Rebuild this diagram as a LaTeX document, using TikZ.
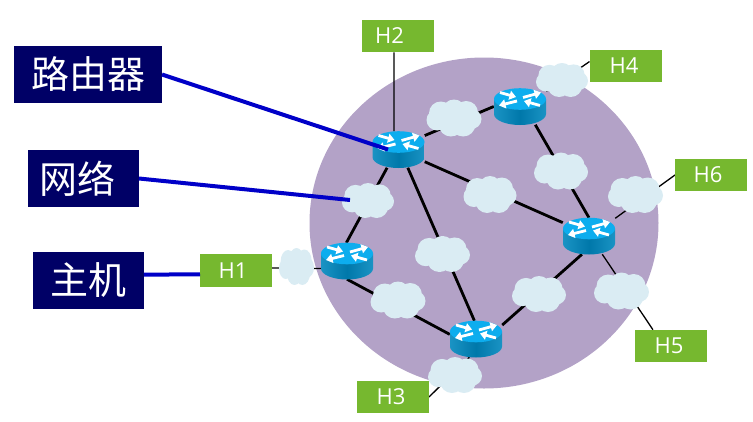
\documentclass[tikz,border=0pt]{standalone}
\usepackage{fontspec}
\setmainfont{Open Sans}
\newfontfamily\cjkfont{Noto Sans CJK SC}
\usetikzlibrary{arrows.meta,backgrounds,calc}
\definecolor{netpurple}{HTML}{B3A2C7}
\definecolor{cloudfill}{HTML}{DAECF3}
\definecolor{hostgreen}{HTML}{76B82F}
\definecolor{navybox}{HTML}{000066}
\definecolor{pointer}{HTML}{0000C8}
\definecolor{routertop}{HTML}{0DADEE}
\definecolor{routerside}{HTML}{0078AA}
\definecolor{routeredge}{HTML}{1A93C4}
\pgfdeclarelayer{domainlayer}
\pgfdeclarelayer{linklayer}
\pgfsetlayers{domainlayer,linklayer,main}
\tikzset{
  hostbox/.style={fill=hostgreen,text=white,font=\fontsize{22}{22}\selectfont,
    minimum width=72pt,minimum height=32.5pt,inner sep=0pt,outer sep=0pt},
  tagbox/.style={fill=navybox,text=white,font=\cjkfont\fontsize{38}{38}\selectfont,
    minimum height=57pt,inner sep=0pt,outer sep=0pt},
  routerbox/.style={minimum width=52.5pt,minimum height=36.5pt,inner sep=0pt,outer sep=0pt},
  trunk/.style={line width=2.8pt,black},
  access/.style={line width=1.3pt,black},
  callout/.style={line width=4pt,pointer},
  flow/.style={white,line width=2.8pt,-{Triangle[width=9pt,length=6.5pt]}},
  router/.pic={
    \path[left color=routeredge,right color=routeredge,middle color=routerside]
      (-26,-7.5) -- (-26,7.5) arc[start angle=180,end angle=0,x radius=26,y radius=11]
      -- (26,-7.5) -- cycle;
    \path[fill=routertop] (0,-7.5) ellipse[x radius=26,y radius=10.8];
    \draw[flow] (-20,-14) -- (-4,-9.5);
    \draw[flow] (3,-9) -- (21,-14);
    \draw[flow] (-3,-5.5) -- (-21,-1);
    \draw[flow] (20,-1) -- (4,-5.5);
  }
}
% a router glyph with a named box around it, for the links to attach to
\newcommand{\routerat}[3]{%
  \pic at (#2,#3) {router};
  \node[routerbox] (#1) at (#2,#3) {};
}
% a cloud built from overlapping lobes: name, centre x, centre y, width, height
\newcommand{\cloudat}[5]{%
  \begin{scope}[shift={(#2,#3)},xscale=#4/54,yscale=#5/37]
    \fill[cloudfill]
      (-13,-5) circle[radius=11.5] (0,-7) circle[radius=11.5] (12,-5.5) circle[radius=11.5]
      (17,1) circle[radius=10] (9,6.5) circle[radius=12] (-3,6.5) circle[radius=12]
      (-16.5,2) circle[radius=10.5] (0,0) circle[radius=16];
  \end{scope}
  \node[minimum width=#4pt,minimum height=#5pt,inner sep=0pt] (#1) at (#2,#3) {};
}
\begin{document}
\begin{tikzpicture}[x=1pt,y=-1pt]
\useasboundingbox (0,0) rectangle (753,421);

\begin{pgfonlayer}{domainlayer}
  \fill[netpurple] (484,223) ellipse[x radius=174.5,y radius=165.5];
\end{pgfonlayer}

% clouds
\cloudat{c1}{454}{118}{55}{37}
\cloudat{c2}{562}{80}{52}{34}
\cloudat{c3}{561}{171}{54}{37}
\cloudat{c4}{490}{194.5}{53}{37}
\cloudat{c5}{368}{200.5}{52}{35}
\cloudat{c6}{442.5}{254}{55}{36}
\cloudat{c7}{398}{300}{55}{37}
\cloudat{c8}{539}{294}{54}{36}
\cloudat{c9}{621.5}{291}{55}{37}
\cloudat{c10}{635.5}{194.5}{55}{37}
\cloudat{c11}{296.5}{266.5}{35}{37}
\cloudat{c12}{455}{375}{54}{36}

% routers
\routerat{r1}{398.5}{149.5}
\routerat{r2}{520}{106.5}
\routerat{r3}{347}{261}
\routerat{r4}{476}{339}
\routerat{r5}{589}{236}

% hosts
\node[hostbox] (h1) at (236,270.5) {H1\kern6pt};
\node[hostbox] (h2) at (397.5,36) {H2\kern16pt};
\node[hostbox] (h3) at (393,397) {H3\kern4pt};
\node[hostbox] (h4) at (625.5,66) {H4\kern3pt};
\node[hostbox] (h5) at (671,346) {H5\kern4pt};
\node[hostbox] (h6) at (711,175) {H6\kern6pt};

% links between routers and out to the hosts, behind clouds and routers
\begin{pgfonlayer}{linklayer}
  \draw[trunk] (r1.28) -- (r2.west);
  \draw[trunk] (r2.-50) -- (r5.north);
  \draw[trunk] (r1.-25) -- (r5.153);
  \draw[trunk] (r1.-122) -- (r3.92);
  \draw[trunk] (r1.-63) -- (r4.95);
  \draw[trunk] (r3.south) -- (r4.170);
  \draw[trunk] (r4.28) -- (r5.-111);
  \draw[access] (h1.4) -- (r3.196);
  \draw[access] (h2.258) -- (r1.104);
  \draw[access] (h3.east) -- (r4.-110);
  \draw[access] (h4.173) -- (r2.30);
  \draw[access] (h5.138) -- (r5.-54);
  \draw[access] (h6.west) -- (r5.34);
\end{pgfonlayer}

% caption boxes
\node[tagbox,minimum width=148pt] (trouter) at (88,74.5) {路由器};
\node[tagbox,minimum width=111pt] (tnet) at (83.5,178.5) {网络\kern12pt};
\node[tagbox,minimum width=111pt] (thost) at (88.5,280.5) {主机};

% callout lines
\coordinate (routertip) at (388,149.5);
\coordinate (nettip) at (350,200);
\draw[callout] (trouter.east) -- (routertip);
\draw[callout] (tnet.east) -- (nettip);
\draw[callout] (thost.6) -- (h1.186);
\end{tikzpicture}
\end{document}
